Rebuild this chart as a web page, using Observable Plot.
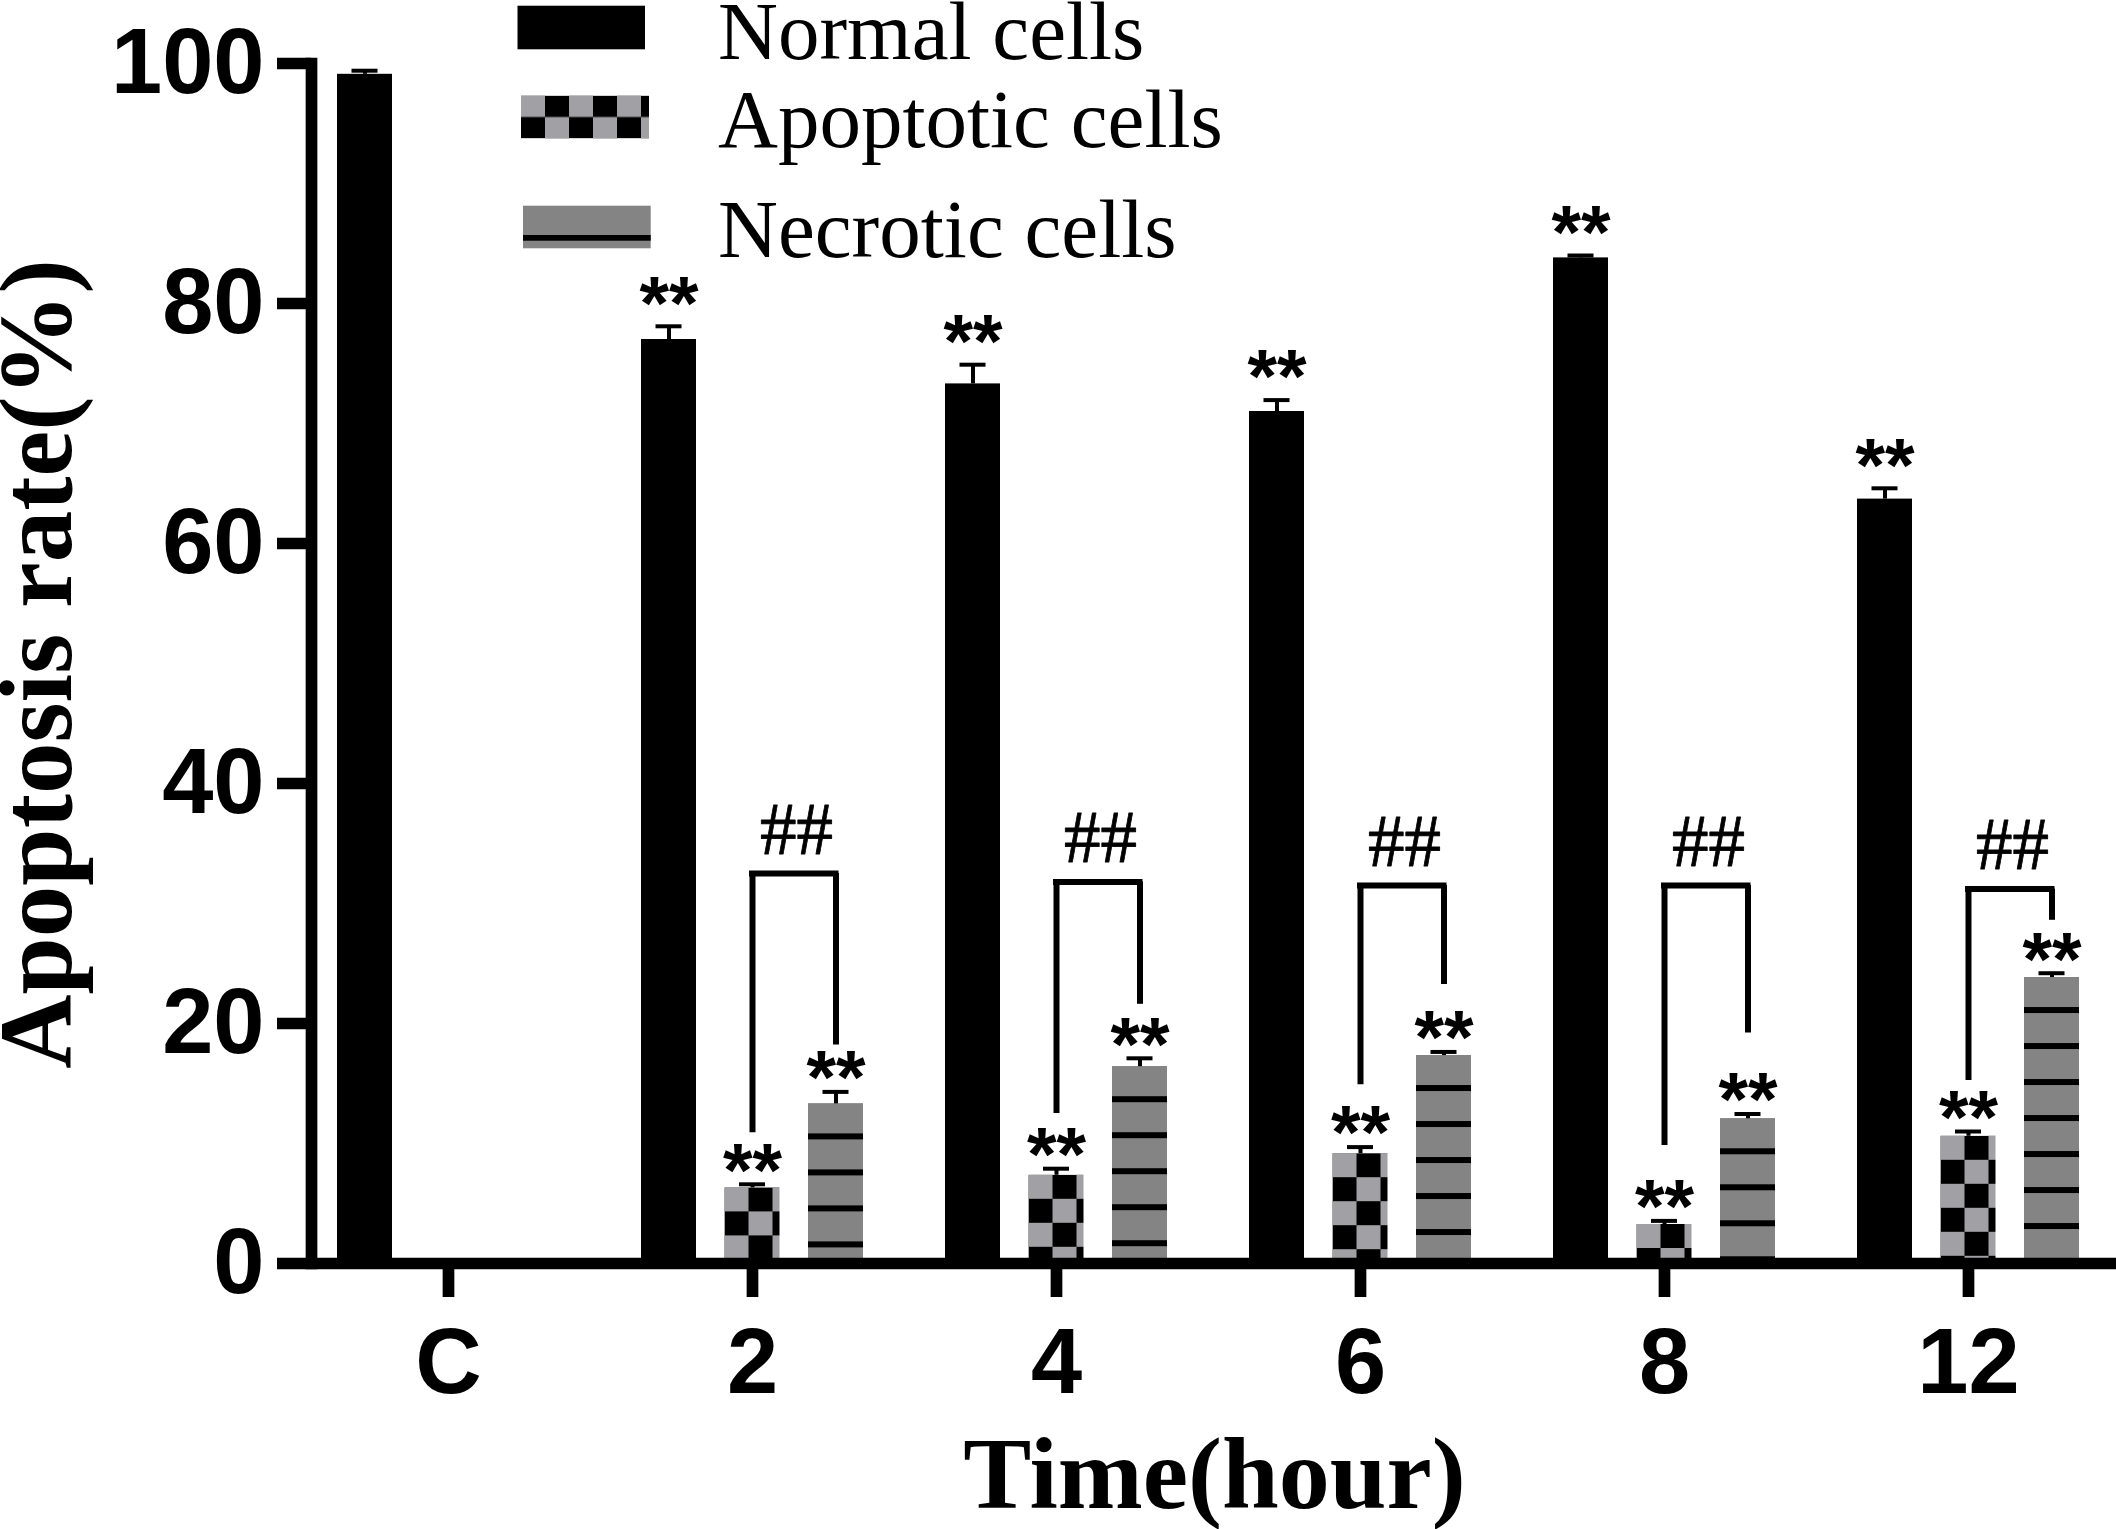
<!DOCTYPE html>
<html>
<head>
<meta charset="utf-8">
<script src="https://cdn.jsdelivr.net/npm/d3@7"></script>
<script src="https://cdn.jsdelivr.net/npm/@observablehq/plot@0.6"></script>
<style>
  html, body { margin: 0; padding: 0; background: #ffffff; }
  #chart svg { display: block; }
  #chart svg [aria-label="x-axis tick label"], #chart svg [aria-label="y-axis tick label"] { font-weight: bold; }
</style>
</head>
<body>
<div id="chart"></div>
<script>
// ---------------- data ----------------
const groups = ["C", "2", "4", "6", "8", "12"];
const seriesNames = ["Normal cells", "Apoptotic cells", "Necrotic cells"];
const normal = [99.1, 77.0, 73.3, 71.0, 83.8, 63.7];
const normalErr = [0.3, 1.1, 1.6, 0.95, 0.2, 0.9];
const apoptotic = [0, 6.3, 7.35, 9.15, 3.25, 10.6];
const apoptoticErr = [0, 0.3, 0.55, 0.55, 0.3, 0.4];
const necrotic = [0, 13.3, 16.4, 17.33, 12.06, 23.83];
const necroticErr = [0, 1.0, 0.7, 0.3, 0.4, 0.36];
const normalStars = ["", "**", "**", "**", "**", "**"];
const apoptoticStars = ["", "**", "**", "**", "**", "**"];
const necroticStars = ["", "**", "**", "**", "**", "**"];
const bracketTop = [null, 32.5, 31.8, 31.5, 31.5, 31.2];
const bracketLeftEnd = [null, 10.9, 12.5, 14.9, 9.83, 15.25];
const bracketRightEnd = [null, 18.2, 21.6, 23.25, 19.2, 28.6];
const bracketLabel = ["", "##", "##", "##", "##", "##"];
const yTicks = [0, 20, 40, 60, 80, 100];
const xTitle = "Time(hour)";
const yTitle = "Apoptosis rate(%)";

// ---------------- layout / style ----------------
const W = 2116, H = 1529;
const BAND = 304, HALF = BAND / 2;
const BAR_W = 55, STEP = 83.5;
const seriesDx = [-STEP, 0, STEP];
const starDy = [-22, -13, -13];
const GRAY_CHECK = "#a1a1a5";
const GRAY_NEC = "#848484";
const SANS = "'Liberation Sans', Arial, sans-serif";
const SERIF = "'Liberation Serif', 'Times New Roman', serif";

function rowsFor(values, errs, stars) {
  return groups.map((g, i) => ({group: g, value: values[i], err: errs[i], star: stars[i]}));
}
const series = [
  {rows: rowsFor(normal, normalErr, normalStars), fill: "black"},
  {rows: rowsFor(apoptotic, apoptoticErr, apoptoticStars), fill: GRAY_CHECK},
  {rows: rowsFor(necrotic, necroticErr, necroticStars), fill: GRAY_NEC}
];
const brackets = groups.map((g, i) => ({group: g, top: bracketTop[i], left: bracketLeftEnd[i], right: bracketRightEnd[i], label: bracketLabel[i]}))
  .filter(d => d.top != null);

const marks = [];
series.forEach((s, k) => {
  const dx = seriesDx[k];
  const withErr = s.rows.filter(d => d.value > 0);
  marks.push(Plot.barY(s.rows, {x: "group", y: "value", dx, fill: s.fill,
    insetLeft: HALF - BAR_W / 2, insetRight: HALF - BAR_W / 2}));
  marks.push(Plot.ruleX(withErr, {x: "group", y1: "value", y2: d => d.value + d.err, dx, stroke: "black", strokeWidth: 4}));
  marks.push(Plot.tickY(withErr, {x: "group", y: d => d.value + d.err, dx, stroke: "black", strokeWidth: 4,
    insetLeft: HALF - 13, insetRight: HALF - 13}));
  marks.push(Plot.text(withErr.filter(d => d.star), {x: "group", y: d => d.value + d.err, dx, dy: starDy[k], text: "star",
    fontSize: 76, fontWeight: "bold", fontFamily: SANS, fill: "black"}));
});
// significance brackets between apoptotic and necrotic bars
marks.push(Plot.ruleX(brackets, {x: "group", y1: "left", y2: "top", dx: seriesDx[1], stroke: "black", strokeWidth: 6}));
marks.push(Plot.ruleX(brackets, {x: "group", y1: "right", y2: "top", dx: seriesDx[2], stroke: "black", strokeWidth: 6}));
marks.push(Plot.tickY(brackets, {x: "group", y: "top", stroke: "black", strokeWidth: 6, strokeLinecap: "square",
  insetLeft: HALF + seriesDx[1], insetRight: HALF - seriesDx[2]}));
marks.push(Plot.text(brackets, {x: "group", y: "top", dx: 44, dy: -20, lineAnchor: "bottom", text: "label",
  fontSize: 73, fontFamily: SERIF, fill: "black", stroke: "black", strokeWidth: 0.8}));

// axes
marks.push(Plot.ruleY([0], {stroke: "black", strokeWidth: 11.7}));
marks.push(Plot.frame({anchor: "left", stroke: "black", strokeWidth: 11.7, strokeLinecap: "square"}));
marks.push(Plot.axisY({ticks: yTicks, tickSize: 34, tickPadding: 13, strokeWidth: 11.7, stroke: "black",
  fontSize: 92, fontWeight: "bold", fontFamily: SANS, fill: "black", label: null}));
marks.push(Plot.axisX({tickSize: 34, tickPadding: 30, strokeWidth: 11.7, stroke: "black",
  fontSize: 92, fontWeight: "bold", fontFamily: SANS, fill: "black", label: null}));

const chart = Plot.plot({
  width: W, height: H,
  marginLeft: 311, marginRight: 0, marginTop: 63, marginBottom: H - 1263,
  style: {background: "white", color: "black", overflow: "visible"},
  x: {type: "band", domain: groups, range: [296, 296 + BAND * groups.length], padding: 0},
  y: {domain: [0, 100], axis: null},
  marks
});
document.getElementById("chart").appendChild(chart);

// ---------------- patterns (anchored to each bar's top-left) ----------------
const svg = d3.select(chart);
const defs = svg.insert("defs", ":first-child");
svg.selectAll(`g[fill="${GRAY_CHECK}"] rect`).each(function(_, i) {
  const r = d3.select(this);
  const x = +r.attr("x"), y = +r.attr("y");
  const id = "chk" + i;
  const p = defs.append("pattern").attr("id", id).attr("patternUnits", "userSpaceOnUse")
    .attr("x", x).attr("y", y).attr("width", 48).attr("height", 48);
  p.append("rect").attr("width", 48).attr("height", 48).attr("fill", GRAY_CHECK);
  p.append("rect").attr("x", 24).attr("width", 24).attr("height", 24).attr("fill", "black");
  p.append("rect").attr("y", 24).attr("width", 24).attr("height", 24).attr("fill", "black");
  r.attr("fill", `url(#${id})`);
});
svg.selectAll(`g[fill="${GRAY_NEC}"] rect`).each(function(_, i) {
  const r = d3.select(this);
  const x = +r.attr("x"), y = +r.attr("y");
  const id = "nec" + i;
  const p = defs.append("pattern").attr("id", id).attr("patternUnits", "userSpaceOnUse")
    .attr("x", x).attr("y", y).attr("width", 60).attr("height", 36);
  p.append("rect").attr("width", 60).attr("height", 36).attr("fill", GRAY_NEC);
  p.append("rect").attr("y", 30).attr("width", 60).attr("height", 6).attr("fill", "black");
  r.attr("fill", `url(#${id})`);
});

// ---------------- legend (inside the plot, top) ----------------
const leg = svg.append("g").attr("class", "legend");
const legPat = defs.append("pattern").attr("id", "legChk").attr("patternUnits", "userSpaceOnUse")
  .attr("x", 521).attr("y", 95.7).attr("width", 48).attr("height", 42.6);
legPat.append("rect").attr("width", 48).attr("height", 42.6).attr("fill", GRAY_CHECK);
legPat.append("rect").attr("x", 24).attr("width", 24).attr("height", 21.3).attr("fill", "black");
legPat.append("rect").attr("y", 21.3).attr("width", 24).attr("height", 21.3).attr("fill", "black");
leg.append("rect").attr("x", 517.5).attr("y", 5.7).attr("width", 127.5).attr("height", 43.6).attr("fill", "black");
leg.append("rect").attr("x", 521).attr("y", 95.7).attr("width", 128).attr("height", 42.6).attr("fill", "url(#legChk)");
leg.append("rect").attr("x", 523).attr("y", 205.7).attr("width", 127.7).attr("height", 42.6).attr("fill", GRAY_NEC);
leg.append("rect").attr("x", 523).attr("y", 235).attr("width", 127.7).attr("height", 5.7).attr("fill", "black");
const legBaselines = [59, 147, 257];
seriesNames.forEach((name, i) => {
  leg.append("text").attr("x", 718).attr("y", legBaselines[i]).attr("text-anchor", "start")
    .attr("font-family", SERIF).attr("font-size", 83).attr("fill", "black").text(name);
});

// ---------------- axis titles ----------------
svg.append("text").attr("x", 1214.5).attr("y", 1508).attr("text-anchor", "middle")
  .attr("font-family", SERIF).attr("font-weight", "bold").attr("font-size", 102).attr("fill", "black").text(xTitle);
svg.append("text").attr("transform", "translate(71,664) rotate(-90)").attr("text-anchor", "middle")
  .attr("font-family", SERIF).attr("font-weight", "bold").attr("font-size", 103).attr("fill", "black").text(yTitle);
</script>
</body>
</html>
